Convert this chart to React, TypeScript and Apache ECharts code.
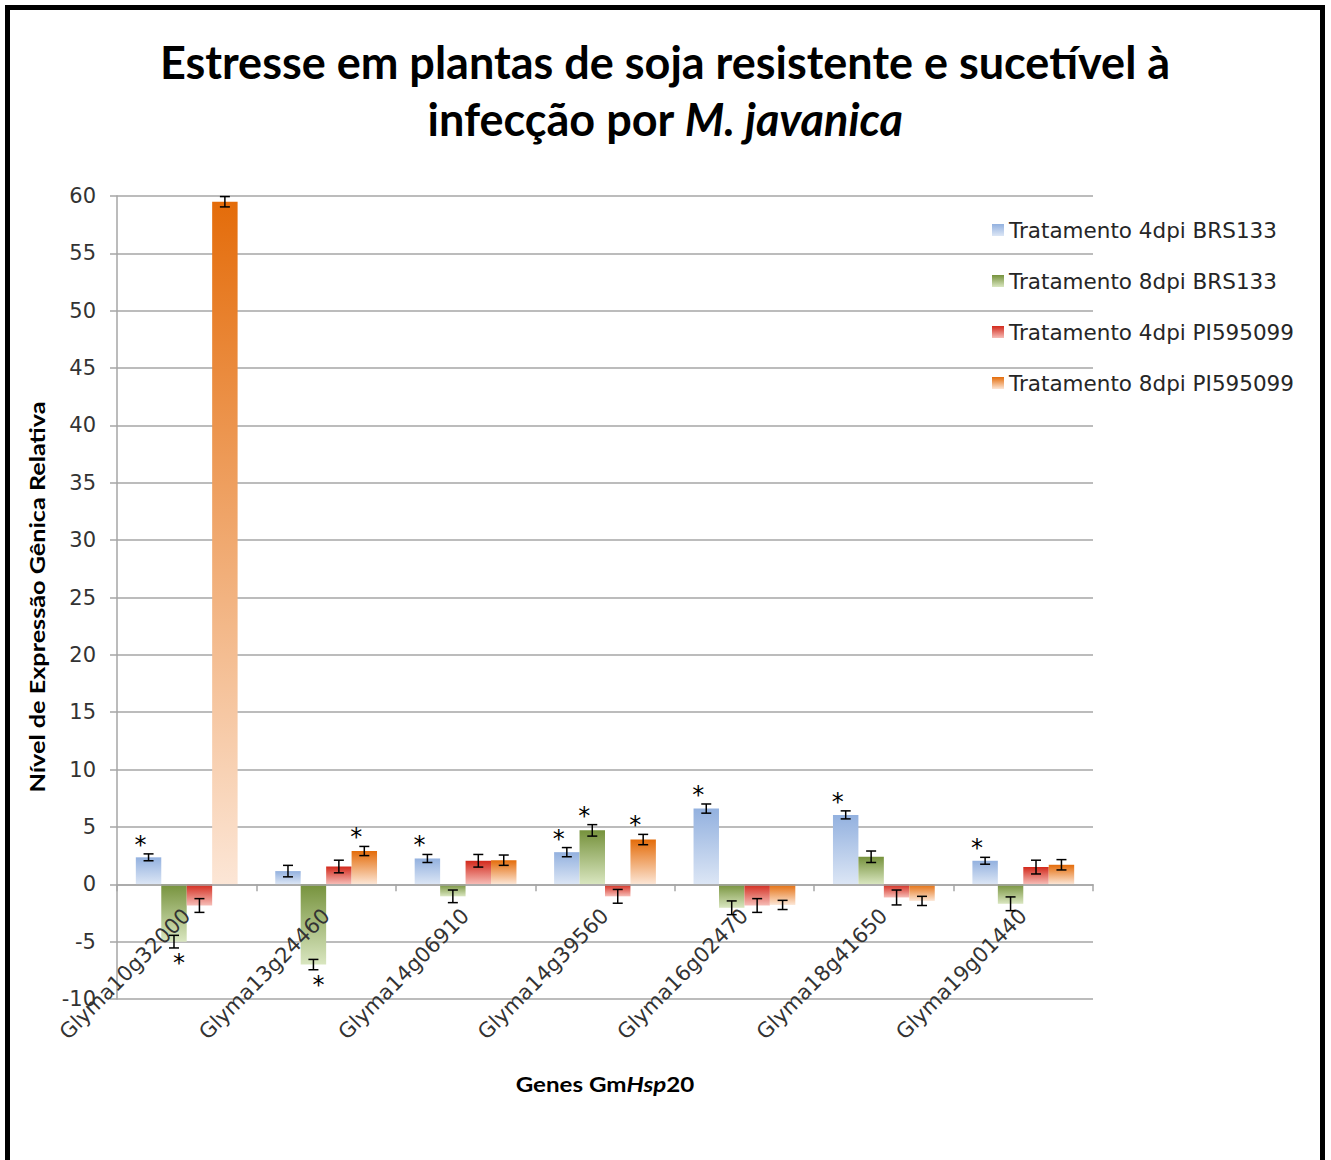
import React, { useEffect, useRef } from 'react';
import * as echarts from 'echarts';

const categories = ['Glyma10g32000', 'Glyma13g24460', 'Glyma14g06910', 'Glyma14g39560', 'Glyma16g02470', 'Glyma18g41650', 'Glyma19g01440'];
const seriesNames = ['Tratamento 4dpi BRS133', 'Tratamento 8dpi BRS133', 'Tratamento 4dpi PI595099', 'Tratamento 8dpi PI595099'];

const values4dpiBRS = [2.35, 1.15, 2.25, 2.8, 6.6, 6.05, 2.05];
const err4dpiBRS = [0.3, 0.5, 0.35, 0.4, 0.4, 0.35, 0.3];
const star4dpiBRS = [1, 0, 1, 1, 1, 1, 1];

const values8dpiBRS = [-5.0, -7.0, -1.05, 4.7, -2.05, 2.4, -1.7];
const err8dpiBRS = [0.55, 0.45, 0.55, 0.5, 0.6, 0.5, 0.6];
const star8dpiBRS = [-1, -1, 0, 1, 0, 0, 0];

const values4dpiPI = [-1.85, 1.55, 2.05, -1.05, -1.85, -1.15, 1.5];
const err4dpiPI = [0.6, 0.55, 0.55, 0.6, 0.6, 0.65, 0.6];
const star4dpiPI = [0, 0, 0, 0, 0, 0, 0];

const values8dpiPI = [59.5, 2.9, 2.1, 3.9, -1.8, -1.45, 1.7];
const err8dpiPI = [0.45, 0.4, 0.45, 0.45, 0.4, 0.4, 0.45];
const star8dpiPI = [0, 1, 0, 1, 0, 0, 0];

const yTicks = { min: -10, max: 60, interval: 5 };

const allValues = [values4dpiBRS, values8dpiBRS, values4dpiPI, values8dpiPI];
const allErrors = [err4dpiBRS, err8dpiBRS, err4dpiPI, err8dpiPI];
const allStars = [star4dpiBRS, star8dpiBRS, star4dpiPI, star8dpiPI];
const gradients: [string, string][] = [
  ['#93B1DF', '#DCE6F5'],
  ['#76923C', '#D9E6C0'],
  ['#D3291C', '#F6BDB7'],
  ['#E46C0A', '#FCE6D6'],
];

const CAT_GAP = 0.27;
const GRID_TOP = 196;
const GRID_HEIGHT = 803;

export default function App() {
  const ref = useRef<HTMLDivElement>(null);
  useEffect(() => {
    const chart = echarts.init(ref.current!, null, { renderer: 'svg' });
    const n = seriesNames.length;
    const barSeries = seriesNames.map((name, i) => ({
      name,
      type: 'bar',
      data: allValues[i],
      barGap: '0%',
      barCategoryGap: CAT_GAP * 100 + '%',
      itemStyle: {
        color: new echarts.graphic.LinearGradient(0, 0, 0, 1, [
          { offset: 0, color: gradients[i][0] },
          { offset: 1, color: gradients[i][1] },
        ]),
      },
      z: 2,
    }));
    const errSeries = seriesNames.map((_, i) => ({
      type: 'custom',
      data: allValues[i].map((v, k) => [k, v, allErrors[i][k], allStars[i][k]]),
      encode: { x: 0, y: 1 },
      clip: false,
      z: 10,
      silent: true,
      renderItem: (params: any, api: any) => {
        const cat = api.value(0);
        const v = api.value(1);
        const e = api.value(2);
        const s = api.value(3);
        const c = api.coord([cat, v]);
        const bandW = api.size([1, 0])[0];
        const groupW = bandW * (1 - CAT_GAP);
        const barW = groupW / n;
        const x = c[0] - groupW / 2 + barW * (i + 0.5);
        const yTop = api.coord([cat, v + e])[1];
        const yBot = api.coord([cat, v - e])[1];
        const cap = 5;
        const ls = { stroke: '#000', lineWidth: 1.5 };
        const children: any[] = [
          { type: 'line', shape: { x1: x, y1: yTop, x2: x, y2: yBot }, style: ls },
          { type: 'line', shape: { x1: x - cap, y1: yTop, x2: x + cap, y2: yTop }, style: ls },
          { type: 'line', shape: { x1: x - cap, y1: yBot, x2: x + cap, y2: yBot }, style: ls },
        ];
        if (s > 0) {
          children.push({
            type: 'text',
            x: x - 8,
            y: yTop - 14 + 5,
            style: { text: '*', fontFamily: 'DejaVu Sans', fontSize: 24, fill: '#000', align: 'center', verticalAlign: 'middle' },
          });
        } else if (s < 0) {
          children.push({
            type: 'text',
            x: x + 5,
            y: yBot + 10 + 5,
            style: { text: '*', fontFamily: 'DejaVu Sans', fontSize: 24, fill: '#000', align: 'center', verticalAlign: 'middle' },
          });
        }
        return { type: 'group', children };
      },
    }));

    // offset of the category axis so that it sits on the zero line
    const zeroOffset = -(GRID_HEIGHT * (0 - yTicks.min)) / (yTicks.max - yTicks.min);

    const axisColor = '#a6a6a6';
    const option: any = {
      animation: false,
      backgroundColor: '#ffffff',
      grid: { left: 117, top: GRID_TOP, width: 976, height: GRID_HEIGHT, containLabel: false },
      legend: {
        data: seriesNames,
        orient: 'vertical',
        left: 987,
        top: 214,
        itemWidth: 12,
        itemHeight: 12,
        itemGap: 29,
        icon: 'rect',
        textStyle: { fontFamily: 'DejaVu Sans', fontSize: 21.5, color: '#262626' },
      },
      xAxis: {
        type: 'category',
        data: categories,
        z: 5,
        offset: zeroOffset,
        axisLine: { onZero: false, lineStyle: { color: axisColor, width: 1.5 } },
        axisTick: { show: true, length: 7, alignWithLabel: false, lineStyle: { color: axisColor, width: 1.5 } },
        axisLabel: { rotate: 45, interval: 0, fontFamily: 'DejaVu Sans', fontSize: 21, color: '#333', margin: 28 },
        splitLine: { show: false },
      },
      yAxis: {
        type: 'value',
        min: yTicks.min,
        max: yTicks.max,
        interval: yTicks.interval,
        axisLine: { show: true, lineStyle: { color: axisColor, width: 1.5 } },
        axisTick: { show: true, length: 7, lineStyle: { color: axisColor, width: 1.5 } },
        axisLabel: { fontFamily: 'DejaVu Sans', fontSize: 21, color: '#333', margin: 21 },
        splitLine: { lineStyle: { color: axisColor, width: 1.5 } },
      },
      series: [...barSeries, ...errSeries],
      graphic: [
        {
          type: 'rect',
          shape: { x: 7.5, y: 7.5, width: 1315, height: 1200 },
          style: { fill: 'none', stroke: '#000', lineWidth: 5 },
          silent: true,
          z: 100,
        },
        {
          type: 'text',
          x: 665,
          y: 62,
          style: {
            text: 'Estresse em plantas de soja resistente e sucetível à',
            fontFamily: 'Lato',
            fontWeight: 'bold',
            fontSize: 45,
            fill: '#000',
            align: 'center',
            verticalAlign: 'middle',
          },
        },
        {
          type: 'text',
          x: 665,
          y: 119,
          style: {
            text: '{n|infecção por }{i|M. javanica}',
            fontFamily: 'Lato',
            fontWeight: 'bold',
            fontSize: 45,
            fill: '#000',
            align: 'center',
            verticalAlign: 'middle',
            rich: {
              n: { fontFamily: 'Lato', fontWeight: 'bold', fontSize: 45, fill: '#000' },
              i: { fontFamily: 'Lato', fontWeight: 'bold', fontStyle: 'italic', fontSize: 45, fill: '#000' },
            },
          },
        },
        {
          type: 'text',
          x: 37,
          y: 597,
          rotation: Math.PI / 2,
          scaleX: 1.2,
          style: {
            text: 'Nível de Expressão Gênica Relativa',
            fontFamily: 'Lato',
            fontWeight: 'bold',
            fontSize: 21,
            fill: '#000',
            align: 'center',
            verticalAlign: 'middle',
          },
        },
        {
          type: 'text',
          x: 605,
          y: 1084,
          scaleX: 1.15,
          style: {
            text: '{b|Genes Gm}{bi|Hsp}{b|20}',
            fontFamily: 'Lato',
            fontWeight: 'bold',
            fontSize: 21,
            fill: '#000',
            align: 'center',
            verticalAlign: 'middle',
            rich: {
              b: { fontFamily: 'Lato', fontWeight: 'bold', fontSize: 21, fill: '#000' },
              bi: { fontFamily: 'Lato', fontWeight: 'bold', fontStyle: 'italic', fontSize: 21, fill: '#000' },
            },
          },
        },
      ],
    };
    chart.setOption(option);
    return () => chart.dispose();
  }, []);
  return (
    <div
      ref={ref}
      style={{ position: 'absolute', left: 0, top: 0, width: 1331, height: 1160, background: '#fff' }}
    />
  );
}
